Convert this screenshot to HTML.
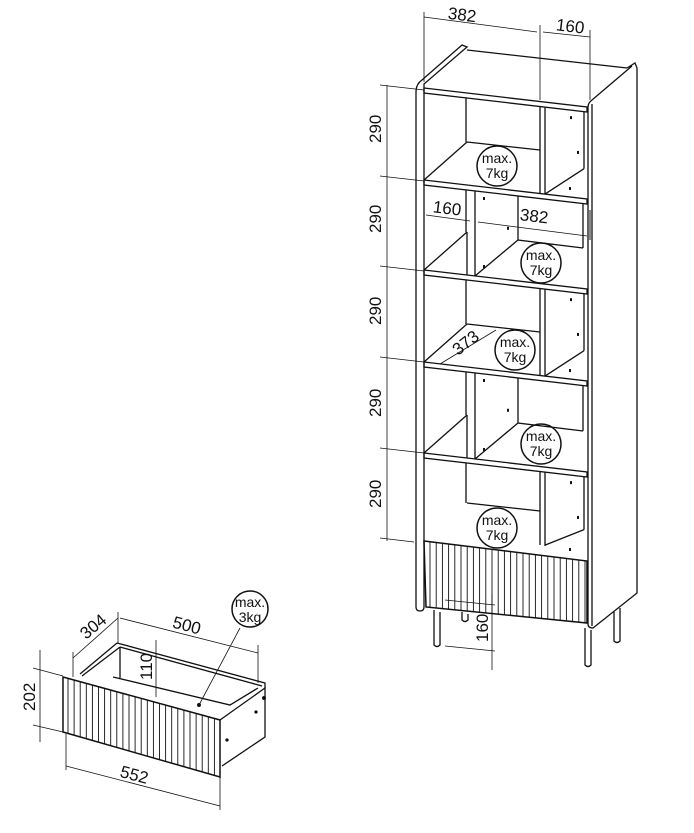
<!DOCTYPE html>
<html><head><meta charset="utf-8"><style>
html,body{margin:0;padding:0;background:#fff;width:694px;height:833px;overflow:hidden}
svg{display:block}
text{font-family:"Liberation Sans",sans-serif;font-size:17px;fill:#111;stroke:none}
.t{font-size:14px}
</style></head><body>
<svg id="s" width="694" height="833" viewBox="0 0 694 833" xmlns="http://www.w3.org/2000/svg" stroke="#111" fill="none" stroke-width="1.3">
<path d="M416 607 L416 92 Q416 84 422 80 L462 45 L467 47 L424 84 L424 607 Q424 611 420 611 Q416 611 416 607Z"/>
<path d="M467 50 L627 68"/>
<path d="M627 68 L635 63 L637 68 L637 593 L593 628 Q588 628 588 624 L588 107 Q588 103 592 100 L632 66"/>
<line x1="592" y1="104" x2="592" y2="626"/>
<line x1="590" y1="210" x2="590" y2="240" stroke="#888" stroke-width="2"/>
<path d="M434 610 L434 645 Q437 648 440 645 L440 612"/>
<path d="M462 612 L462 620 Q465 623 468 620 L468 614"/>
<path d="M585 628 L585 665 Q588 668 591 665 L591 630"/>
<path d="M614 612 L614 641 Q617 644 620 641 L620 608"/>
<g id="g"></g>
<line x1="424" y1="12" x2="424" y2="82" stroke-width="0.8"/>
<line x1="540" y1="25" x2="540" y2="100" stroke-width="0.8"/>
<line x1="590" y1="30" x2="590" y2="100" stroke-width="0.8"/>
<line x1="424" y1="17" x2="537" y2="32" stroke-width="0.8"/>
<line x1="543" y1="32" x2="590" y2="37" stroke-width="0.8"/>
<text x="448" y="21" transform="rotate(7 466 15)">382</text>
<text x="556" y="32" transform="rotate(7 570 27)">160</text>
<line x1="387" y1="85" x2="387" y2="541" stroke-width="0.8"/>
<g stroke-width="0.8">
<line x1="380" y1="85" x2="424" y2="90"/>
<line x1="380" y1="176" x2="424" y2="181"/>
<line x1="380" y1="266" x2="424" y2="271"/>
<line x1="380" y1="357" x2="424" y2="362"/>
<line x1="380" y1="448" x2="424" y2="453"/>
<line x1="380" y1="538" x2="414" y2="542"/>
</g>
<text transform="translate(381 143) rotate(-90)">290</text>
<text transform="translate(381 233) rotate(-90)">290</text>
<text transform="translate(381 325) rotate(-90)">290</text>
<text transform="translate(381 417) rotate(-90)">290</text>
<text transform="translate(381 508) rotate(-90)">290</text>
<line x1="426" y1="215" x2="470" y2="221" stroke-width="0.8"/>
<line x1="478" y1="222" x2="587" y2="236" stroke-width="0.8"/>
<text x="433" y="214" transform="rotate(7 447 208)">160</text>
<text x="520" y="222" transform="rotate(7 535 216)">382</text>
<line x1="440" y1="364" x2="496" y2="330" stroke-width="0.8"/>
<text transform="translate(458 356) rotate(-38)">373</text>
<line x1="492" y1="594" x2="492" y2="670" stroke-width="0.8"/>
<line x1="445" y1="600" x2="495" y2="605" stroke-width="0.8"/>
<line x1="445" y1="646" x2="495" y2="651" stroke-width="0.8"/>
<text transform="translate(488 642) rotate(-90)">160</text>
<path d="M63 677 L220 720 L220 777 L63 732Z" stroke-width="1.5"/>
<path d="M220 720 L265 688 L265 737 L222 766"/>
<path d="M117 643 L265 683 L265 688"/>
<path d="M117 643 L80 674"/>
<path d="M120 647 L262 686"/>
<path d="M120 647 L82 676"/>
<path d="M120 647 L120 678"/>
<path d="M113 677 L230 705 L258 688"/>
<circle cx="264" cy="698" r="1.3" fill="#111"/>
<circle cx="256" cy="712" r="1" fill="#111"/>
<circle cx="227" cy="740" r="1" fill="#111"/>
<g id="dr"></g>
<g stroke-width="0.8">
<line x1="73" y1="658" x2="118" y2="618"/>
<line x1="73" y1="652" x2="73" y2="677"/>
<line x1="118" y1="612" x2="118" y2="643"/>
<line x1="120" y1="618" x2="258" y2="653"/>
<line x1="258" y1="645" x2="258" y2="683"/>
<line x1="156" y1="640" x2="156" y2="697"/>
<line x1="40" y1="650" x2="40" y2="742"/>
<line x1="33" y1="668" x2="63" y2="676"/>
<line x1="33" y1="725" x2="63" y2="732"/>
<line x1="66" y1="766" x2="220" y2="806"/>
<line x1="66" y1="734" x2="66" y2="770"/>
<line x1="220" y1="777" x2="220" y2="810"/>
<line x1="240" y1="628" x2="199" y2="705"/>
</g>
<circle cx="199" cy="705" r="1.3" fill="#111"/>
<text transform="translate(86 640) rotate(-40)">304</text>
<text x="172" y="632" transform="rotate(15 190 628)">500</text>
<text transform="translate(152 680) rotate(-90)">110</text>
<text transform="translate(35 711) rotate(-90)">202</text>
<text x="120" y="782" transform="rotate(15 140 776)">552</text>
<circle cx="250" cy="609" r="18" stroke-width="1.5"/>
<text class="t" x="250" y="607" text-anchor="middle">max.</text>
<text class="t" x="250" y="622" text-anchor="middle">3kg</text>
</svg>
<script>
var g=document.getElementById('g'),NS='http://www.w3.org/2000/svg';
function P(d,w){var p=document.createElementNS(NS,'path');p.setAttribute('d',d);if(w)p.setAttribute('stroke-width',w);g.appendChild(p);}
function C(x,y){var c=document.createElementNS(NS,'circle');c.setAttribute('cx',x);c.setAttribute('cy',y);c.setAttribute('r',20);c.setAttribute('stroke-width',1.5);g.appendChild(c);
['max.','7kg'].forEach(function(t,i){var e=document.createElementNS(NS,'text');e.setAttribute('x',x);e.setAttribute('y',y-3+i*15);e.setAttribute('text-anchor','middle');e.setAttribute('class','t');e.textContent=t;g.appendChild(e);});}
var L=[88,180,270,362,453,541],s=19/163;
function Y(x,l){return l+(x-424)*s;}
for(var i=0;i<5;i++){var l=L[i];
 P('M424 '+l+' L587 '+(l+19)+' L587 '+(l+24)+' L424 '+(l+5)+'Z');
 if(i>0){P('M424 '+l+' L467 '+(l-38));}
}
for(var k=0;k<5;k++){var a=L[k]+5,b=L[k+1];var bb=b-38;
 P('M466 '+Y(466,a)+' L466 '+bb);
 if(k%2==0){
  P('M540 '+Y(540,a)+' L540 '+(k==4?545:Y(540,b)));
  P('M545 '+Y(545,a)+' L545 '+(k==4?546:Y(545,b)));
  P('M467 '+bb+' L540 '+(bb+8));
  P('M545 '+(Y(545,b)-(k==4?10:0))+' L584 '+(Y(584,b)-30));
  P('M584 '+Y(584,a)+' L584 '+(Y(584,b)-30));
  [[571,Y(571,a)+6],[578,Y(578,a)+40],[570,Y(570,b)-10]].forEach(function(q){P('M'+q[0]+' '+q[1]+' l0 3','2');});
 } else {
  P('M467 '+bb+' L467 '+Y(467,b));
  P('M475 '+Y(475,a)+' L475 '+Y(475,b));
  P('M475 '+Y(475,b)+' L518 '+(b-30));
  P('M518 '+Y(518,a)+' L518 '+(b-30)+' L583 '+(b-22));
  P('M583 '+Y(583,a)+' L583 '+(b-22));
  [[484,Y(484,a)+5],[508,Y(508,a)+32],[484,Y(484,b)-12]].forEach(function(q){P('M'+q[0]+' '+q[1]+' l0 3','2');});
 }
}
P('M424 541 L587 561 L587 623 L426 607Z','1.5');
for(var x=430;x<586;x+=6.2){var y1=541+(x-424)*20/163,y2=607+(x-424)*16/163;P('M'+x.toFixed(1)+' '+y1.toFixed(1)+' L'+x.toFixed(1)+' '+y2.toFixed(1),'0.9');}
C(497,166);C(541,263);C(515,350);C(541,444);C(497,528);
var dr=document.getElementById('dr');
for(var x=68;x<218;x+=6.1){var t=(x-63)/157;var p=document.createElementNS(NS,'line');p.setAttribute('x1',x.toFixed(1));p.setAttribute('x2',x.toFixed(1));p.setAttribute('y1',(677+43*t).toFixed(1));p.setAttribute('y2',(732+45*t).toFixed(1));p.setAttribute('stroke-width','0.9');dr.appendChild(p);}
</script>
</body></html>
